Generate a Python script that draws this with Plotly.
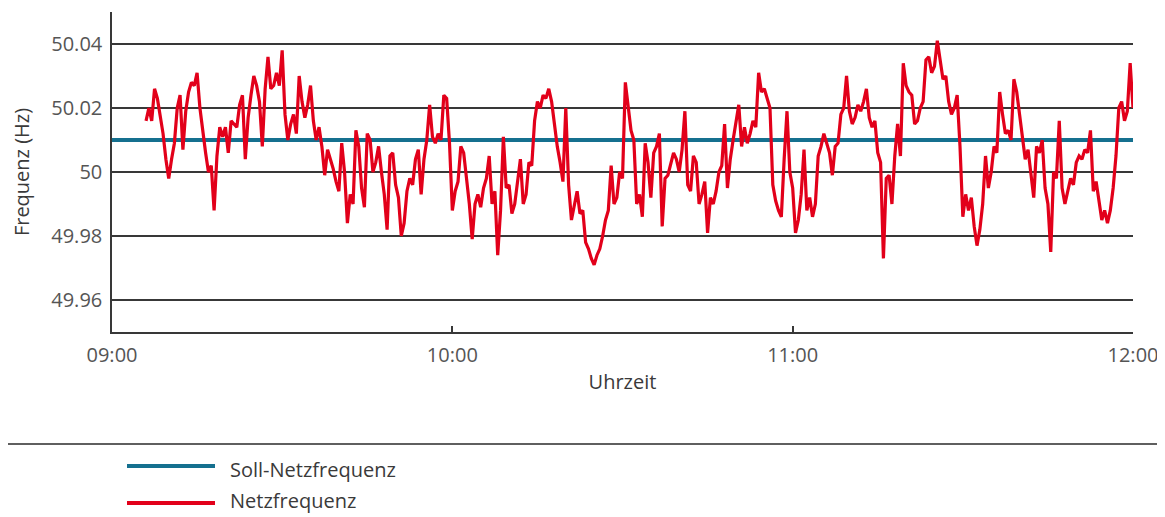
import pandas as pd
import plotly.graph_objects as go

# ---------------- data ----------------
DAY = "2024-01-01"
X_TICK_LABELS = ["09:00", "10:00", "11:00", "12:00"]
Y_TICKS = [49.96, 49.98, 50.0, 50.02, 50.04]
Y_TICK_LABELS = ["49.96", "49.98", "50", "50.02", "50.04"]

SOLL_NAME = "Soll-Netzfrequenz"
SOLL_VALUE = 50.01
SOLL_TIMES = ["09:00", "12:00"]

NETZ_NAME = "Netzfrequenz"
NETZ_START_MIN = 6.0      # minutes after 09:00
NETZ_STEP_MIN = 0.5       # sample spacing in minutes
NETZ_VALUES = [
    50.016, 50.020, 50.016, 50.026, 50.023, 50.018, 50.012, 50.004, 49.998,
    50.004, 50.009, 50.020, 50.024, 50.007, 50.019, 50.025, 50.028, 50.027, 50.031,
    50.020, 50.012, 50.006, 50.000, 50.002, 49.988, 50.005, 50.014, 50.011, 50.014,
    50.006, 50.016, 50.015, 50.014, 50.021, 50.024, 50.004, 50.017, 50.024, 50.030,
    50.027, 50.022, 50.008, 50.026, 50.036, 50.026, 50.027, 50.031, 50.027, 50.038,
    50.018, 50.010, 50.015, 50.018, 50.012, 50.030, 50.022, 50.017, 50.021, 50.027,
    50.016, 50.010, 50.014, 50.008, 49.999, 50.007, 50.004, 50.001, 49.997, 49.994,
    50.009, 50.000, 49.984, 49.993, 49.990, 50.013, 50.008, 49.995, 49.989, 50.012,
    50.010, 50.000, 50.003, 50.008, 50.000, 49.993, 49.982, 50.005, 50.006, 49.996,
    49.992, 49.980, 49.984, 49.994, 49.998, 49.996, 50.004, 50.007, 49.993, 50.004,
    50.010, 50.021, 50.011, 50.009, 50.012, 50.010, 50.024, 50.023, 50.009, 49.988,
    49.994, 49.997, 50.008, 50.006, 49.998, 49.990, 49.979, 49.990, 49.993, 49.989,
    49.995, 49.998, 50.005, 49.990, 49.994, 49.974, 49.988, 50.011, 49.995, 49.996,
    49.987, 49.990, 49.997, 50.004, 49.990, 49.993, 50.003, 50.002, 50.016, 50.022,
    50.020, 50.024, 50.023, 50.026, 50.022, 50.015, 50.008, 50.003, 49.997, 50.020,
    49.996, 49.985, 49.990, 49.994, 49.987, 49.988, 49.978, 49.976, 49.973, 49.971,
    49.974, 49.976, 49.980, 49.985, 49.988, 50.002, 49.990, 49.992, 50.000, 49.998,
    50.028, 50.020, 50.013, 50.010, 49.990, 49.993, 49.986, 50.009, 50.003, 49.992,
    50.006, 50.008, 50.012, 49.983, 49.998, 49.999, 50.003, 50.006, 50.004, 50.000,
    50.007, 50.019, 49.996, 49.994, 50.005, 50.003, 49.990, 49.993, 49.997, 49.981,
    49.992, 49.990, 49.994, 50.000, 50.002, 50.015, 49.995, 50.004, 50.010, 50.016,
    50.021, 50.008, 50.014, 50.009, 50.012, 50.016, 50.014, 50.031, 50.025, 50.026,
    50.023, 50.020, 49.996, 49.991, 49.988, 49.986, 50.004, 50.019, 50.000, 49.995,
    49.981, 49.985, 49.993, 50.007, 49.988, 49.992, 49.986, 49.990, 50.005, 50.008,
    50.012, 50.009, 50.006, 49.999, 50.008, 50.009, 50.018, 50.020, 50.030, 50.019,
    50.015, 50.017, 50.021, 50.019, 50.022, 50.026, 50.017, 50.014, 50.016, 50.006,
    50.003, 49.973, 49.998, 49.999, 49.990, 50.005, 50.015, 50.005, 50.034, 50.027,
    50.025, 50.024, 50.015, 50.016, 50.020, 50.022, 50.035, 50.036, 50.031, 50.033,
    50.041, 50.035, 50.029, 50.030, 50.022, 50.018, 50.020, 50.024, 50.008, 49.986,
    49.993, 49.988, 49.992, 49.983, 49.977, 49.982, 49.990, 50.005, 49.995, 50.000,
    50.008, 50.006, 50.025, 50.018, 50.012, 50.013, 50.010, 50.029, 50.025, 50.018,
    50.010, 50.004, 50.007, 49.999, 49.992, 50.008, 50.006, 50.010, 49.995, 49.990,
    49.975, 50.000, 49.998, 50.016, 49.995, 49.990, 49.994, 49.998, 49.996, 50.003,
    50.005, 50.004, 50.007, 50.006, 50.013, 49.994, 49.997, 49.990, 49.985, 49.988,
    49.984, 49.988, 49.995, 50.005, 50.020, 50.022, 50.016, 50.019, 50.034, 50.020,
]

X_TITLE = "Uhrzeit"
Y_TITLE = "Frequenz (Hz)"

# ---------------- styling ----------------
BLUE = "#15708f"
RED = "#e2001a"
GRID = "#383838"
TICK_GRAY = "#555555"
TEXT = "#3a3a3a"
FONT = "Open Sans"
FS = 20

def t(hhmm):
    return pd.Timestamp(f"{DAY} {hhmm}")

netz_times = [t("09:00") + pd.to_timedelta(NETZ_START_MIN + NETZ_STEP_MIN * i, unit="min")
              for i in range(len(NETZ_VALUES))]
soll_times = [t(s) for s in SOLL_TIMES]

fig = go.Figure()
fig.add_trace(go.Scatter(
    x=soll_times, y=[SOLL_VALUE] * len(soll_times), mode="lines",
    name=SOLL_NAME, line=dict(color=BLUE, width=4), showlegend=False,
))
fig.add_trace(go.Scatter(
    x=netz_times, y=NETZ_VALUES, mode="lines",
    name=NETZ_NAME, line=dict(color=RED, width=3.2), showlegend=False,
))

# page has an 8px body margin; figure coordinates = page coordinates - 8
OFF = 8
W, H = 1165 - OFF, 517 - OFF
L, T = 112 - OFF, 12 - OFF
R = 1165 - 1133
B = 517 - 332
PW, PH = W - L - R, H - T - B

def px(x_page):
    return (x_page - OFF - L) / PW

def py(y_page):
    return (H - B - (y_page - OFF)) / PH

shapes = [
    dict(type="line", xref="paper", yref="paper", x0=px(OFF), x1=px(1165), y0=py(444), y1=py(444),
         line=dict(color="#2a2a2a", width=1.5)),
    dict(type="line", xref="paper", yref="paper", x0=px(127), x1=px(215), y0=py(466), y1=py(466),
         line=dict(color=BLUE, width=4)),
    dict(type="line", xref="paper", yref="paper", x0=px(127), x1=px(215), y0=py(503), y1=py(503),
         line=dict(color=RED, width=4)),
]
annotations = [
    dict(text=SOLL_NAME, xref="paper", yref="paper", x=px(228), y=py(469), xanchor="left",
         yanchor="middle", showarrow=False, font=dict(family=FONT, size=FS, color=TEXT)),
    dict(text=NETZ_NAME, xref="paper", yref="paper", x=px(228), y=py(500), xanchor="left",
         yanchor="middle", showarrow=False, font=dict(family=FONT, size=FS, color=TEXT)),
]

fig.update_layout(
    width=W, height=H,
    margin=dict(l=L, r=R, t=T, b=B),
    paper_bgcolor="white", plot_bgcolor="white",
    font=dict(family=FONT, size=FS, color=TICK_GRAY),
    shapes=shapes, annotations=annotations,
    showlegend=False,
)
fig.update_xaxes(
    type="date",
    range=[t(X_TICK_LABELS[0]), t(X_TICK_LABELS[-1])],
    tickvals=[t(s) for s in X_TICK_LABELS], ticktext=X_TICK_LABELS,
    showgrid=False, zeroline=False,
    showline=True, linecolor=GRID, linewidth=1.5,
    ticks="inside", ticklen=6, tickcolor=GRID, tickwidth=1.5,
    tickfont=dict(family=FONT, size=FS, color=TICK_GRAY),
    ticklabelstandoff=4,
    title=dict(text=X_TITLE, standoff=8, font=dict(family=FONT, size=FS, color=TEXT)),
)
fig.update_yaxes(
    range=[49.95, 50.05],
    tickvals=Y_TICKS, ticktext=Y_TICK_LABELS,
    showgrid=True, gridcolor=GRID, gridwidth=1.5, zeroline=False,
    showline=True, linecolor=GRID, linewidth=1.5,
    ticks="", tickfont=dict(family=FONT, size=FS, color=TICK_GRAY),
    ticklabelstandoff=4,
    title=dict(text=Y_TITLE, standoff=20, font=dict(family=FONT, size=FS, color=TEXT)),
)

fig.write_html("out.html")
